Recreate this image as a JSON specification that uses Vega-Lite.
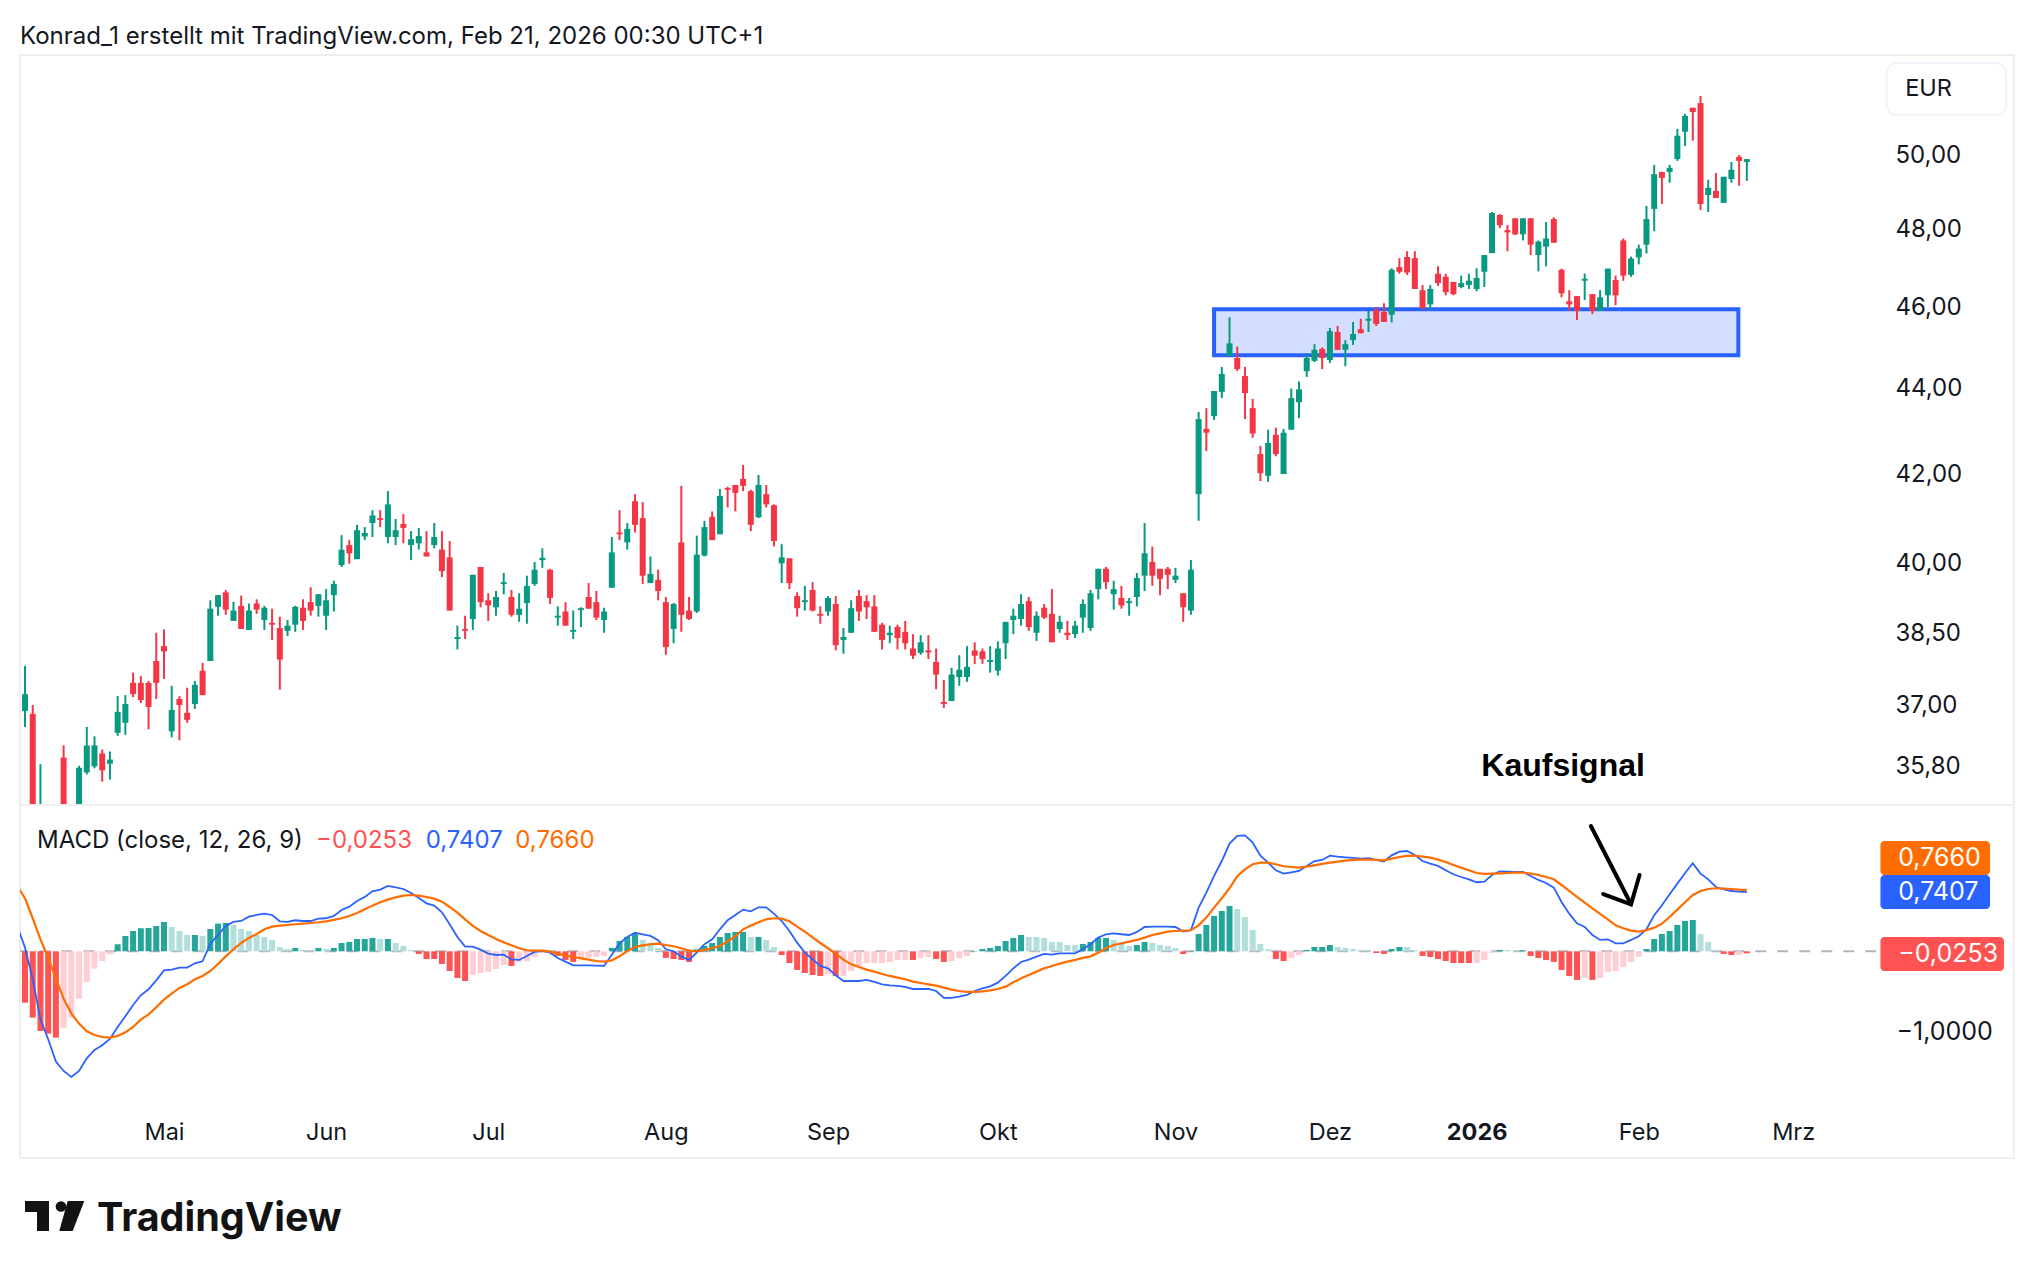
{"$schema":"https://vega.github.io/schema/vega-lite/v6.json","background":"white","padding":{"left":19,"right":21,"top":25,"bottom":0},"bounds":"flush","spacing":0,
"title":{"text":"Konrad_1 erstellt mit TradingView.com, Feb 21, 2026 00:30 UTC+1","anchor":"start","frame":"group","font":"Inter","fontSize":24,"fontWeight":"normal","color":"#131722","offset":5},
"config":{"view":{"stroke":"#eeeeee","strokeWidth":2},"axis":{"grid":false,"domain":false,"ticks":false,"title":null,"labelFont":"Inter","labelFontSize":24,"labelColor":"#131722"},"text":{"font":"Inter"}},
"datasets":{
"candles":[{"i":0,"o":36.9,"h":37.82,"l":36.58,"c":37.24},{"i":1,"o":36.84,"h":37.02,"l":34.41,"c":34.81},{"i":2,"o":34.31,"h":35.84,"l":34.11,"c":34.91},{"i":3,"o":34.6,"h":34.9,"l":34,"c":34.2},{"i":4,"o":34.5,"h":34.8,"l":33.9,"c":34.1},{"i":5,"o":35.97,"h":36.21,"l":34.3,"c":34.6},{"i":6,"o":34.3,"h":34.9,"l":34.2,"c":34.7},{"i":7,"o":34.7,"h":35.81,"l":34.5,"c":35.77},{"i":8,"o":35.68,"h":36.58,"l":35.64,"c":36.21},{"i":9,"o":35.8,"h":36.39,"l":35.76,"c":36.21},{"i":10,"o":36.05,"h":36.13,"l":35.5,"c":35.72},{"i":11,"o":35.85,"h":36.09,"l":35.54,"c":35.93},{"i":12,"o":36.46,"h":37.2,"l":36.4,"c":36.88},{"i":13,"o":36.66,"h":37.22,"l":36.42,"c":37.04},{"i":14,"o":37.47,"h":37.68,"l":37.18,"c":37.24},{"i":15,"o":37.47,"h":37.61,"l":37.06,"c":37.12},{"i":16,"o":37.47,"h":37.51,"l":36.53,"c":36.98},{"i":17,"o":37.92,"h":38.51,"l":37.14,"c":37.47},{"i":18,"o":38.23,"h":38.58,"l":37.55,"c":38.12},{"i":19,"o":36.49,"h":37.41,"l":36.37,"c":36.92},{"i":20,"o":37.14,"h":37.2,"l":36.31,"c":37.02},{"i":21,"o":36.86,"h":37.37,"l":36.66,"c":36.72},{"i":22,"o":37.04,"h":37.51,"l":36.94,"c":37.43},{"i":23,"o":37.72,"h":37.88,"l":37.22,"c":37.22},{"i":24,"o":37.92,"h":39.2,"l":37.92,"c":39.02},{"i":25,"o":39.06,"h":39.31,"l":38.87,"c":39.31},{"i":26,"o":39.37,"h":39.42,"l":38.89,"c":39},{"i":27,"o":38.76,"h":39.17,"l":38.76,"c":38.98},{"i":28,"o":39.08,"h":39.3,"l":38.59,"c":38.59},{"i":29,"o":38.57,"h":39.13,"l":38.57,"c":38.98},{"i":30,"o":39.13,"h":39.22,"l":38.91,"c":39},{"i":31,"o":38.78,"h":39.08,"l":38.57,"c":39.04},{"i":32,"o":38.72,"h":39.02,"l":38.36,"c":38.68},{"i":33,"o":38.61,"h":38.85,"l":37.33,"c":37.95},{"i":34,"o":38.55,"h":38.78,"l":38.44,"c":38.66},{"i":35,"o":38.68,"h":39.08,"l":38.53,"c":39.06},{"i":36,"o":39.04,"h":39.22,"l":38.57,"c":38.76},{"i":37,"o":39.16,"h":39.48,"l":38.87,"c":38.98},{"i":38,"o":39.08,"h":39.33,"l":38.85,"c":39.33},{"i":39,"o":38.87,"h":39.44,"l":38.57,"c":39.2},{"i":40,"o":39.31,"h":39.62,"l":38.96,"c":39.55},{"i":41,"o":39.96,"h":40.62,"l":39.92,"c":40.3},{"i":42,"o":40.4,"h":40.51,"l":39.99,"c":40.22},{"i":43,"o":40.09,"h":40.85,"l":40.09,"c":40.73},{"i":44,"o":40.59,"h":40.8,"l":40.51,"c":40.67},{"i":45,"o":40.89,"h":41.18,"l":40.58,"c":41.06},{"i":46,"o":41,"h":41.18,"l":40.8,"c":40.96},{"i":47,"o":40.58,"h":41.61,"l":40.44,"c":41.31},{"i":48,"o":40.58,"h":40.98,"l":40.4,"c":40.73},{"i":49,"o":40.87,"h":41.09,"l":40.44,"c":40.78},{"i":50,"o":40.4,"h":40.71,"l":40.07,"c":40.53},{"i":51,"o":40.44,"h":40.78,"l":40.3,"c":40.6},{"i":52,"o":40.24,"h":40.71,"l":40.15,"c":40.15},{"i":53,"o":40.4,"h":40.89,"l":40.33,"c":40.58},{"i":54,"o":40.3,"h":40.71,"l":39.7,"c":39.83},{"i":55,"o":40.13,"h":40.49,"l":38.98,"c":38.98},{"i":56,"o":38.38,"h":38.66,"l":38.16,"c":38.42},{"i":57,"o":38.59,"h":38.87,"l":38.38,"c":38.55},{"i":58,"o":38.8,"h":39.75,"l":38.57,"c":39.75},{"i":59,"o":39.92,"h":39.92,"l":39.05,"c":39.16},{"i":60,"o":39.2,"h":39.35,"l":38.76,"c":39.09},{"i":61,"o":39.05,"h":39.4,"l":38.87,"c":39.27},{"i":62,"o":39.55,"h":39.79,"l":39.33,"c":39.59},{"i":63,"o":39.27,"h":39.42,"l":38.85,"c":38.89},{"i":64,"o":38.89,"h":39.35,"l":38.74,"c":39.02},{"i":65,"o":39.14,"h":39.73,"l":38.7,"c":39.51},{"i":66,"o":39.55,"h":40.03,"l":39.51,"c":39.86},{"i":67,"o":40.07,"h":40.33,"l":39.9,"c":40.12},{"i":68,"o":39.86,"h":39.88,"l":39.12,"c":39.25},{"i":69,"o":38.83,"h":39.07,"l":38.66,"c":38.87},{"i":70,"o":38.96,"h":39.16,"l":38.66,"c":38.66},{"i":71,"o":38.53,"h":38.98,"l":38.38,"c":38.57},{"i":72,"o":38.99,"h":39.05,"l":38.63,"c":39.03},{"i":73,"o":39.27,"h":39.57,"l":39.02,"c":39.02},{"i":74,"o":39.16,"h":39.4,"l":38.78,"c":38.83},{"i":75,"o":38.78,"h":39.04,"l":38.51,"c":38.96},{"i":76,"o":39.47,"h":40.58,"l":39.47,"c":40.24},{"i":77,"o":40.68,"h":41.18,"l":40.51,"c":40.64},{"i":78,"o":40.46,"h":40.89,"l":40.3,"c":40.76},{"i":79,"o":41.38,"h":41.54,"l":40.68,"c":40.85},{"i":80,"o":41,"h":41.36,"l":39.55,"c":39.73},{"i":81,"o":39.57,"h":40.15,"l":39.57,"c":39.77},{"i":82,"o":39.64,"h":39.86,"l":39.2,"c":39.4},{"i":83,"o":39.16,"h":39.27,"l":38.05,"c":38.21},{"i":84,"o":38.59,"h":39.14,"l":38.29,"c":39.12},{"i":85,"o":40.46,"h":41.73,"l":38.53,"c":38.89},{"i":86,"o":38.98,"h":39.27,"l":38.78,"c":38.8},{"i":87,"o":38.96,"h":40.61,"l":38.93,"c":40.19},{"i":88,"o":40.17,"h":40.94,"l":40.15,"c":40.8},{"i":89,"o":41.03,"h":41.15,"l":40.51,"c":40.51},{"i":90,"o":40.64,"h":41.66,"l":40.64,"c":41.5},{"i":91,"o":41.68,"h":41.71,"l":41.24,"c":41.64},{"i":92,"o":41.75,"h":41.75,"l":41.15,"c":41.57},{"i":93,"o":41.89,"h":42.21,"l":41.61,"c":41.73},{"i":94,"o":41.61,"h":41.64,"l":40.71,"c":40.85},{"i":95,"o":41.02,"h":41.98,"l":41,"c":41.75},{"i":96,"o":41.54,"h":41.75,"l":41.24,"c":41.31},{"i":97,"o":41.29,"h":41.31,"l":40.37,"c":40.49},{"i":98,"o":40,"h":40.42,"l":39.57,"c":40.13},{"i":99,"o":40.11,"h":40.11,"l":39.44,"c":39.57},{"i":100,"o":39.29,"h":39.37,"l":38.85,"c":39.03},{"i":101,"o":39.16,"h":39.51,"l":38.98,"c":39.2},{"i":102,"o":39.42,"h":39.59,"l":38.96,"c":38.98},{"i":103,"o":38.91,"h":39.07,"l":38.7,"c":38.87},{"i":104,"o":38.96,"h":39.29,"l":38.87,"c":39.25},{"i":105,"o":39.12,"h":39.29,"l":38.14,"c":38.25},{"i":106,"o":38.36,"h":38.61,"l":38.07,"c":38.42},{"i":107,"o":38.51,"h":39.2,"l":38.51,"c":39.03},{"i":108,"o":39.29,"h":39.42,"l":38.76,"c":38.96},{"i":109,"o":39.18,"h":39.31,"l":38.8,"c":39.05},{"i":110,"o":39.07,"h":39.31,"l":38.53,"c":38.53},{"i":111,"o":38.68,"h":38.72,"l":38.16,"c":38.36},{"i":112,"o":38.46,"h":38.66,"l":38.29,"c":38.51},{"i":113,"o":38.63,"h":38.68,"l":38.16,"c":38.4},{"i":114,"o":38.53,"h":38.76,"l":38.16,"c":38.29},{"i":115,"o":38.18,"h":38.48,"l":37.96,"c":38.03},{"i":116,"o":38.09,"h":38.46,"l":38.05,"c":38.31},{"i":117,"o":38.14,"h":38.46,"l":37.96,"c":38.1},{"i":118,"o":37.9,"h":38.18,"l":37.34,"c":37.64},{"i":119,"o":37.08,"h":37.53,"l":36.96,"c":37.04},{"i":120,"o":37.1,"h":37.78,"l":37.1,"c":37.64},{"i":121,"o":37.59,"h":38.04,"l":37.41,"c":37.74},{"i":122,"o":37.59,"h":38.23,"l":37.49,"c":37.8},{"i":123,"o":38.14,"h":38.31,"l":37.86,"c":38.03},{"i":124,"o":38.12,"h":38.18,"l":37.86,"c":37.96},{"i":125,"o":37.9,"h":38.23,"l":37.68,"c":37.94},{"i":126,"o":37.72,"h":38.33,"l":37.62,"c":38.18},{"i":127,"o":38.29,"h":38.74,"l":37.96,"c":38.74},{"i":128,"o":38.78,"h":39.02,"l":38.48,"c":38.87},{"i":129,"o":38.8,"h":39.33,"l":38.66,"c":39.12},{"i":130,"o":39.18,"h":39.27,"l":38.55,"c":38.63},{"i":131,"o":38.51,"h":38.96,"l":38.34,"c":38.87},{"i":132,"o":39.04,"h":39.12,"l":38.8,"c":38.83},{"i":133,"o":38.91,"h":39.44,"l":38.31,"c":38.31},{"i":134,"o":38.59,"h":38.87,"l":38.51,"c":38.74},{"i":135,"o":38.51,"h":38.76,"l":38.36,"c":38.46},{"i":136,"o":38.48,"h":38.76,"l":38.4,"c":38.66},{"i":137,"o":38.83,"h":39.22,"l":38.51,"c":39.12},{"i":138,"o":38.61,"h":39.42,"l":38.55,"c":39.35},{"i":139,"o":39.44,"h":39.88,"l":39.22,"c":39.88},{"i":140,"o":39.88,"h":39.92,"l":39.44,"c":39.59},{"i":141,"o":39.33,"h":39.62,"l":39,"c":39.44},{"i":142,"o":39.25,"h":39.51,"l":39.02,"c":39.09},{"i":143,"o":39.14,"h":39.25,"l":38.87,"c":39.18},{"i":144,"o":39.27,"h":39.79,"l":39.07,"c":39.68},{"i":145,"o":39.73,"h":40.89,"l":39.4,"c":40.22},{"i":146,"o":40.03,"h":40.37,"l":39.51,"c":39.73},{"i":147,"o":39.88,"h":39.88,"l":39.31,"c":39.66},{"i":148,"o":39.88,"h":39.92,"l":39.44,"c":39.75},{"i":149,"o":39.64,"h":39.9,"l":39.57,"c":39.73},{"i":150,"o":39.35,"h":39.35,"l":38.74,"c":39.05},{"i":151,"o":38.98,"h":40.07,"l":38.89,"c":39.86},{"i":152,"o":41.54,"h":43.45,"l":40.94,"c":43.28},{"i":153,"o":43.05,"h":43.54,"l":42.53,"c":42.96},{"i":154,"o":43.35,"h":43.95,"l":43.26,"c":43.95},{"i":155,"o":43.93,"h":44.53,"l":43.78,"c":44.36},{"i":156,"o":44.8,"h":45.76,"l":44.8,"c":45.11},{"i":157,"o":44.75,"h":45.03,"l":44.43,"c":44.48},{"i":158,"o":44.31,"h":44.53,"l":43.28,"c":43.9},{"i":159,"o":43.54,"h":43.76,"l":42.84,"c":42.94},{"i":160,"o":42.46,"h":42.65,"l":41.84,"c":42.02},{"i":161,"o":41.96,"h":43.03,"l":41.82,"c":42.72},{"i":162,"o":42.91,"h":43.08,"l":42.41,"c":42.46},{"i":163,"o":42,"h":43.05,"l":42,"c":42.96},{"i":164,"o":43.03,"h":44.01,"l":43.03,"c":43.78},{"i":165,"o":43.68,"h":44.18,"l":43.3,"c":43.99},{"i":166,"o":44.43,"h":44.87,"l":44.29,"c":44.75},{"i":167,"o":44.68,"h":45.09,"l":44.65,"c":44.95},{"i":168,"o":44.97,"h":45.01,"l":44.48,"c":44.75},{"i":169,"o":44.7,"h":45.49,"l":44.63,"c":45.41},{"i":170,"o":45.39,"h":45.54,"l":44.95,"c":44.95},{"i":171,"o":44.95,"h":45.19,"l":44.55,"c":45.09},{"i":172,"o":45.19,"h":45.64,"l":45.07,"c":45.34},{"i":173,"o":45.46,"h":45.72,"l":45.36,"c":45.36},{"i":174,"o":45.67,"h":45.92,"l":45.39,"c":45.72},{"i":175,"o":45.94,"h":46.01,"l":45.54,"c":45.59},{"i":176,"o":45.89,"h":46.11,"l":45.64,"c":45.64},{"i":177,"o":45.82,"h":47,"l":45.63,"c":46.96},{"i":178,"o":47.03,"h":47.26,"l":46.86,"c":46.91},{"i":179,"o":47.29,"h":47.44,"l":46.83,"c":46.89},{"i":180,"o":47.26,"h":47.44,"l":46.47,"c":46.47},{"i":181,"o":46.44,"h":46.57,"l":45.97,"c":45.99},{"i":182,"o":46.08,"h":46.57,"l":45.94,"c":46.47},{"i":183,"o":46.86,"h":47.05,"l":46.55,"c":46.62},{"i":184,"o":46.78,"h":46.86,"l":46.31,"c":46.39},{"i":185,"o":46.65,"h":46.65,"l":46.31,"c":46.34},{"i":186,"o":46.52,"h":46.81,"l":46.49,"c":46.62},{"i":187,"o":46.57,"h":46.86,"l":46.47,"c":46.68},{"i":188,"o":46.47,"h":47,"l":46.41,"c":46.75},{"i":189,"o":46.91,"h":47.34,"l":46.52,"c":47.34},{"i":190,"o":47.39,"h":48.47,"l":47.39,"c":48.44},{"i":191,"o":48.39,"h":48.41,"l":48.04,"c":48.12},{"i":192,"o":47.99,"h":48.12,"l":47.44,"c":47.93},{"i":193,"o":48.3,"h":48.3,"l":47.86,"c":47.88},{"i":194,"o":47.88,"h":48.3,"l":47.72,"c":48.3},{"i":195,"o":48.3,"h":48.3,"l":47.34,"c":47.61},{"i":196,"o":47.34,"h":47.72,"l":46.92,"c":47.69},{"i":197,"o":47.56,"h":48.2,"l":47.05,"c":47.77},{"i":198,"o":48.28,"h":48.33,"l":47.66,"c":47.66},{"i":199,"o":46.96,"h":46.99,"l":46.26,"c":46.36},{"i":200,"o":46.16,"h":46.44,"l":45.92,"c":46.08},{"i":201,"o":46.29,"h":46.29,"l":45.69,"c":45.92},{"i":202,"o":46.68,"h":46.86,"l":46.19,"c":46.73},{"i":203,"o":46.34,"h":46.34,"l":45.84,"c":45.92},{"i":204,"o":45.92,"h":46.44,"l":45.92,"c":46.26},{"i":205,"o":46.31,"h":46.99,"l":46.01,"c":46.99},{"i":206,"o":46.7,"h":46.81,"l":46.06,"c":46.31},{"i":207,"o":47.72,"h":47.77,"l":46.68,"c":46.81},{"i":208,"o":46.83,"h":47.3,"l":46.78,"c":47.25},{"i":209,"o":47.28,"h":47.61,"l":47.1,"c":47.51},{"i":210,"o":47.61,"h":48.63,"l":47.38,"c":48.28},{"i":211,"o":48.55,"h":49.73,"l":47.96,"c":49.48},{"i":212,"o":49.54,"h":49.54,"l":48.68,"c":49.38},{"i":213,"o":49.54,"h":49.73,"l":49.25,"c":49.65},{"i":214,"o":49.89,"h":50.72,"l":49.84,"c":50.53},{"i":215,"o":50.64,"h":51.14,"l":50.25,"c":51.08},{"i":216,"o":51.31,"h":51.31,"l":50.39,"c":51.19},{"i":217,"o":51.44,"h":51.64,"l":48.52,"c":48.68},{"i":218,"o":48.92,"h":49.33,"l":48.47,"c":49.11},{"i":219,"o":49.03,"h":49.51,"l":48.84,"c":48.84},{"i":220,"o":48.71,"h":49.41,"l":48.71,"c":49.41},{"i":221,"o":49.35,"h":49.81,"l":49.25,"c":49.6},{"i":222,"o":49.95,"h":50,"l":49.17,"c":49.84},{"i":223,"o":49.81,"h":49.89,"l":49.3,"c":49.89}],
"macd":[{"i":-1,"macd":0.317,"signal":0.817},{"i":0,"hist":-0.642,"phase":"fb","macd":0.046,"signal":0.663},{"i":1,"hist":-0.829,"phase":"fb","macd":-0.35,"signal":0.413},{"i":2,"hist":-0.996,"phase":"fb","macd":-0.85,"signal":0.15},{"i":3,"hist":-1.029,"phase":"fb","macd":-1.1,"signal":-0.079},{"i":4,"hist":-1.079,"phase":"fb","macd":-1.379,"signal":-0.342},{"i":5,"hist":-0.954,"phase":"gb","macd":-1.496,"signal":-0.592},{"i":6,"hist":-0.829,"phase":"gb","macd":-1.571,"signal":-0.779},{"i":7,"hist":-0.592,"phase":"gb","macd":-1.496,"signal":-0.904},{"i":8,"hist":-0.383,"phase":"gb","macd":-1.338,"signal":-1},{"i":9,"hist":-0.217,"phase":"gb","macd":-1.233,"signal":-1.046},{"i":10,"hist":-0.121,"phase":"gb","macd":-1.175,"signal":-1.071},{"i":11,"hist":-0.038,"phase":"gb","macd":-1.096,"signal":-1.079},{"i":12,"hist":0.088,"phase":"ga","macd":-0.946,"signal":-1.058},{"i":13,"hist":0.192,"phase":"ga","macd":-0.813,"signal":-1.013},{"i":14,"hist":0.254,"phase":"ga","macd":-0.671,"signal":-0.946},{"i":15,"hist":0.288,"phase":"ga","macd":-0.55,"signal":-0.854},{"i":16,"hist":0.292,"phase":"ga","macd":-0.475,"signal":-0.788},{"i":17,"hist":0.317,"phase":"ga","macd":-0.363,"signal":-0.7},{"i":18,"hist":0.367,"phase":"ga","macd":-0.238,"signal":-0.604},{"i":19,"hist":0.304,"phase":"fa","macd":-0.229,"signal":-0.529},{"i":20,"hist":0.254,"phase":"fa","macd":-0.204,"signal":-0.458},{"i":21,"hist":0.204,"phase":"fa","macd":-0.204,"signal":-0.413},{"i":22,"hist":0.204,"phase":"ga","macd":-0.15,"signal":-0.35},{"i":23,"hist":0.192,"phase":"fa","macd":-0.125,"signal":-0.308},{"i":24,"hist":0.279,"phase":"ga","macd":0.096,"signal":-0.246},{"i":25,"hist":0.346,"phase":"ga","macd":0.204,"signal":-0.158},{"i":26,"hist":0.354,"phase":"ga","macd":0.317,"signal":-0.063},{"i":27,"hist":0.329,"phase":"fa","macd":0.367,"signal":0.025},{"i":28,"hist":0.279,"phase":"fa","macd":0.379,"signal":0.104},{"i":29,"hist":0.254,"phase":"fa","macd":0.433,"signal":0.167},{"i":30,"hist":0.204,"phase":"fa","macd":0.454,"signal":0.217},{"i":31,"hist":0.179,"phase":"fa","macd":0.471,"signal":0.275},{"i":32,"hist":0.142,"phase":"fa","macd":0.454,"signal":0.308},{"i":33,"hist":0.054,"phase":"fa","macd":0.375,"signal":0.321},{"i":34,"hist":0.029,"phase":"fa","macd":0.367,"signal":0.329},{"i":35,"hist":0.042,"phase":"ga","macd":0.388,"signal":0.338},{"i":36,"hist":0.017,"phase":"fa","macd":0.379,"signal":0.346},{"i":37,"hist":0.013,"phase":"fa","macd":0.379,"signal":0.354},{"i":38,"hist":0.042,"phase":"ga","macd":0.408,"signal":0.363},{"i":39,"hist":0.029,"phase":"fa","macd":0.413,"signal":0.375},{"i":40,"hist":0.042,"phase":"ga","macd":0.442,"signal":0.392},{"i":41,"hist":0.104,"phase":"ga","macd":0.517,"signal":0.413},{"i":42,"hist":0.117,"phase":"ga","macd":0.558,"signal":0.442},{"i":43,"hist":0.154,"phase":"ga","macd":0.629,"signal":0.479},{"i":44,"hist":0.154,"phase":"ga","macd":0.679,"signal":0.525},{"i":45,"hist":0.167,"phase":"ga","macd":0.75,"signal":0.571},{"i":46,"hist":0.154,"phase":"fa","macd":0.771,"signal":0.613},{"i":47,"hist":0.154,"phase":"ga","macd":0.817,"signal":0.646},{"i":48,"hist":0.104,"phase":"fa","macd":0.8,"signal":0.675},{"i":49,"hist":0.067,"phase":"fa","macd":0.779,"signal":0.696},{"i":50,"hist":0.017,"phase":"fa","macd":0.729,"signal":0.704},{"i":51,"hist":-0.033,"phase":"fb","macd":0.667,"signal":0.696},{"i":52,"hist":-0.096,"phase":"fb","macd":0.6,"signal":0.679},{"i":53,"hist":-0.096,"phase":"fb","macd":0.571,"signal":0.658},{"i":54,"hist":-0.158,"phase":"fb","macd":0.488,"signal":0.621},{"i":55,"hist":-0.246,"phase":"fb","macd":0.338,"signal":0.554},{"i":56,"hist":-0.333,"phase":"fb","macd":0.179,"signal":0.483},{"i":57,"hist":-0.371,"phase":"fb","macd":0.058,"signal":0.4},{"i":58,"hist":-0.296,"phase":"gb","macd":0.058,"signal":0.317},{"i":59,"hist":-0.271,"phase":"gb","macd":0.021,"signal":0.254},{"i":60,"hist":-0.258,"phase":"gb","macd":-0.029,"signal":0.204},{"i":61,"hist":-0.221,"phase":"gb","macd":-0.046,"signal":0.154},{"i":62,"hist":-0.171,"phase":"gb","macd":-0.042,"signal":0.113},{"i":63,"hist":-0.183,"phase":"fb","macd":-0.1,"signal":0.075},{"i":64,"hist":-0.133,"phase":"gb","macd":-0.108,"signal":0.038},{"i":65,"hist":-0.121,"phase":"gb","macd":-0.058,"signal":0.013},{"i":66,"hist":-0.071,"phase":"gb","macd":-0.008,"signal":0.008},{"i":67,"hist":-0.021,"phase":"gb","macd":0.004,"signal":0.008},{"i":68,"hist":0.017,"phase":"fa","macd":-0.017,"signal":-0.004},{"i":69,"hist":-0.058,"phase":"fb","macd":-0.083,"signal":-0.029},{"i":70,"hist":-0.108,"phase":"fb","macd":-0.129,"signal":-0.05},{"i":71,"hist":-0.133,"phase":"fb","macd":-0.175,"signal":-0.071},{"i":72,"hist":-0.096,"phase":"gb","macd":-0.175,"signal":-0.088},{"i":73,"hist":-0.083,"phase":"gb","macd":-0.175,"signal":-0.104},{"i":74,"hist":-0.071,"phase":"gb","macd":-0.179,"signal":-0.121},{"i":75,"hist":-0.058,"phase":"gb","macd":-0.183,"signal":-0.129},{"i":76,"hist":0.042,"phase":"ga","macd":-0.042,"signal":-0.113},{"i":77,"hist":0.129,"phase":"ga","macd":0.1,"signal":-0.063},{"i":78,"hist":0.179,"phase":"ga","macd":0.179,"signal":0.004},{"i":79,"hist":0.229,"phase":"ga","macd":0.233,"signal":0.054},{"i":80,"hist":0.142,"phase":"fa","macd":0.213,"signal":0.075},{"i":81,"hist":0.104,"phase":"fa","macd":0.192,"signal":0.088},{"i":82,"hist":0.042,"phase":"fa","macd":0.138,"signal":0.096},{"i":83,"hist":-0.083,"phase":"fb","macd":0.025,"signal":0.079},{"i":84,"hist":-0.096,"phase":"fb","macd":0,"signal":0.063},{"i":85,"hist":-0.108,"phase":"fb","macd":-0.067,"signal":0.038},{"i":86,"hist":-0.133,"phase":"fb","macd":-0.108,"signal":0.008},{"i":87,"hist":0.025,"phase":"ga","macd":-0.017,"signal":0},{"i":88,"hist":0.067,"phase":"ga","macd":0.088,"signal":0.017},{"i":89,"hist":0.104,"phase":"ga","macd":0.15,"signal":0.038},{"i":90,"hist":0.179,"phase":"ga","macd":0.275,"signal":0.067},{"i":91,"hist":0.229,"phase":"ga","macd":0.388,"signal":0.125},{"i":92,"hist":0.242,"phase":"ga","macd":0.454,"signal":0.188},{"i":93,"hist":0.242,"phase":"ga","macd":0.521,"signal":0.275},{"i":94,"hist":0.179,"phase":"fa","macd":0.5,"signal":0.321},{"i":95,"hist":0.179,"phase":"ga","macd":0.55,"signal":0.363},{"i":96,"hist":0.142,"phase":"fa","macd":0.55,"signal":0.4},{"i":97,"hist":0.054,"phase":"fa","macd":0.471,"signal":0.413},{"i":98,"hist":-0.046,"phase":"fb","macd":0.379,"signal":0.408},{"i":99,"hist":-0.146,"phase":"fb","macd":0.254,"signal":0.375},{"i":100,"hist":-0.233,"phase":"fb","macd":0.108,"signal":0.308},{"i":101,"hist":-0.271,"phase":"fb","macd":-0.017,"signal":0.246},{"i":102,"hist":-0.296,"phase":"fb","macd":-0.1,"signal":0.175},{"i":103,"hist":-0.308,"phase":"fb","macd":-0.183,"signal":0.104},{"i":104,"hist":-0.283,"phase":"gb","macd":-0.213,"signal":0.038},{"i":105,"hist":-0.308,"phase":"fb","macd":-0.3,"signal":-0.029},{"i":106,"hist":-0.308,"phase":"gb","macd":-0.371,"signal":-0.104},{"i":107,"hist":-0.246,"phase":"gb","macd":-0.371,"signal":-0.163},{"i":108,"hist":-0.196,"phase":"gb","macd":-0.371,"signal":-0.196},{"i":109,"hist":-0.146,"phase":"gb","macd":-0.358,"signal":-0.229},{"i":110,"hist":-0.146,"phase":"gb","macd":-0.383,"signal":-0.254},{"i":111,"hist":-0.146,"phase":"gb","macd":-0.413,"signal":-0.283},{"i":112,"hist":-0.133,"phase":"gb","macd":-0.425,"signal":-0.308},{"i":113,"hist":-0.108,"phase":"gb","macd":-0.433,"signal":-0.329},{"i":114,"hist":-0.108,"phase":"gb","macd":-0.446,"signal":-0.35},{"i":115,"hist":-0.108,"phase":"fb","macd":-0.471,"signal":-0.379},{"i":116,"hist":-0.083,"phase":"gb","macd":-0.471,"signal":-0.396},{"i":117,"hist":-0.071,"phase":"gb","macd":-0.471,"signal":-0.413},{"i":118,"hist":-0.096,"phase":"fb","macd":-0.496,"signal":-0.429},{"i":119,"hist":-0.133,"phase":"fb","macd":-0.583,"signal":-0.454},{"i":120,"hist":-0.121,"phase":"gb","macd":-0.583,"signal":-0.479},{"i":121,"hist":-0.083,"phase":"gb","macd":-0.567,"signal":-0.496},{"i":122,"hist":-0.058,"phase":"gb","macd":-0.546,"signal":-0.508},{"i":123,"hist":0.004,"phase":"ga","macd":-0.496,"signal":-0.508},{"i":124,"hist":0.029,"phase":"ga","macd":-0.463,"signal":-0.5},{"i":125,"hist":0.042,"phase":"ga","macd":-0.438,"signal":-0.488},{"i":126,"hist":0.067,"phase":"ga","macd":-0.392,"signal":-0.471},{"i":127,"hist":0.129,"phase":"ga","macd":-0.308,"signal":-0.442},{"i":128,"hist":0.167,"phase":"ga","macd":-0.213,"signal":-0.388},{"i":129,"hist":0.204,"phase":"ga","macd":-0.133,"signal":-0.338},{"i":130,"hist":0.179,"phase":"fa","macd":-0.104,"signal":-0.296},{"i":131,"hist":0.179,"phase":"fa","macd":-0.067,"signal":-0.254},{"i":132,"hist":0.167,"phase":"fa","macd":-0.033,"signal":-0.213},{"i":133,"hist":0.117,"phase":"fa","macd":-0.042,"signal":-0.183},{"i":134,"hist":0.117,"phase":"fa","macd":-0.025,"signal":-0.154},{"i":135,"hist":0.079,"phase":"fa","macd":-0.025,"signal":-0.129},{"i":136,"hist":0.079,"phase":"fa","macd":-0.025,"signal":-0.108},{"i":137,"hist":0.092,"phase":"ga","macd":0.025,"signal":-0.083},{"i":138,"hist":0.117,"phase":"ga","macd":0.088,"signal":-0.063},{"i":139,"hist":0.167,"phase":"ga","macd":0.171,"signal":-0.017},{"i":140,"hist":0.167,"phase":"ga","macd":0.213,"signal":0.038},{"i":141,"hist":0.142,"phase":"fa","macd":0.225,"signal":0.079},{"i":142,"hist":0.104,"phase":"fa","macd":0.213,"signal":0.1},{"i":143,"hist":0.067,"phase":"fa","macd":0.204,"signal":0.121},{"i":144,"hist":0.079,"phase":"ga","macd":0.242,"signal":0.142},{"i":145,"hist":0.117,"phase":"ga","macd":0.304,"signal":0.171},{"i":146,"hist":0.104,"phase":"fa","macd":0.308,"signal":0.204},{"i":147,"hist":0.079,"phase":"fa","macd":0.308,"signal":0.225},{"i":148,"hist":0.067,"phase":"fa","macd":0.308,"signal":0.246},{"i":149,"hist":0.042,"phase":"fa","macd":0.304,"signal":0.254},{"i":150,"hist":-0.033,"phase":"fb","macd":0.246,"signal":0.258},{"i":151,"hist":0.004,"phase":"ga","macd":0.263,"signal":0.263},{"i":152,"hist":0.217,"phase":"ga","macd":0.546,"signal":0.325},{"i":153,"hist":0.329,"phase":"ga","macd":0.733,"signal":0.421},{"i":154,"hist":0.442,"phase":"ga","macd":0.942,"signal":0.546},{"i":155,"hist":0.504,"phase":"ga","macd":1.129,"signal":0.663},{"i":156,"hist":0.567,"phase":"ga","macd":1.346,"signal":0.788},{"i":157,"hist":0.529,"phase":"fa","macd":1.442,"signal":0.938},{"i":158,"hist":0.429,"phase":"fa","macd":1.45,"signal":1.025},{"i":159,"hist":0.267,"phase":"fa","macd":1.358,"signal":1.088},{"i":160,"hist":0.092,"phase":"fa","macd":1.196,"signal":1.108},{"i":161,"hist":0.025,"phase":"fa","macd":1.108,"signal":1.108},{"i":162,"hist":-0.096,"phase":"fb","macd":1.013,"signal":1.088},{"i":163,"hist":-0.121,"phase":"fb","macd":0.971,"signal":1.063},{"i":164,"hist":-0.083,"phase":"gb","macd":0.988,"signal":1.054},{"i":165,"hist":-0.046,"phase":"gb","macd":1.004,"signal":1.046},{"i":166,"hist":0.017,"phase":"ga","macd":1.067,"signal":1.058},{"i":167,"hist":0.054,"phase":"ga","macd":1.129,"signal":1.075},{"i":168,"hist":0.054,"phase":"ga","macd":1.142,"signal":1.092},{"i":169,"hist":0.079,"phase":"ga","macd":1.196,"signal":1.108},{"i":170,"hist":0.054,"phase":"fa","macd":1.183,"signal":1.121},{"i":171,"hist":0.042,"phase":"fa","macd":1.175,"signal":1.133},{"i":172,"hist":0.029,"phase":"fa","macd":1.167,"signal":1.142},{"i":173,"hist":0.017,"phase":"fa","macd":1.158,"signal":1.146},{"i":174,"hist":0.017,"phase":"fa","macd":1.163,"signal":1.146},{"i":175,"hist":-0.021,"phase":"fb","macd":1.142,"signal":1.142},{"i":176,"hist":-0.033,"phase":"fb","macd":1.121,"signal":1.138},{"i":177,"hist":0.029,"phase":"ga","macd":1.2,"signal":1.158},{"i":178,"hist":0.054,"phase":"ga","macd":1.246,"signal":1.179},{"i":179,"hist":0.054,"phase":"fa","macd":1.254,"signal":1.192},{"i":180,"hist":0.017,"phase":"fa","macd":1.204,"signal":1.196},{"i":181,"hist":-0.058,"phase":"fb","macd":1.129,"signal":1.183},{"i":182,"hist":-0.071,"phase":"fb","macd":1.096,"signal":1.171},{"i":183,"hist":-0.096,"phase":"fb","macd":1.067,"signal":1.146},{"i":184,"hist":-0.121,"phase":"fb","macd":1.013,"signal":1.117},{"i":185,"hist":-0.146,"phase":"fb","macd":0.963,"signal":1.079},{"i":186,"hist":-0.146,"phase":"fb","macd":0.929,"signal":1.046},{"i":187,"hist":-0.146,"phase":"fb","macd":0.9,"signal":1.013},{"i":188,"hist":-0.146,"phase":"gb","macd":0.863,"signal":0.979},{"i":189,"hist":-0.108,"phase":"gb","macd":0.871,"signal":0.967},{"i":190,"hist":-0.017,"phase":"gb","macd":0.954,"signal":0.971},{"i":191,"hist":0.017,"phase":"ga","macd":1,"signal":0.975},{"i":192,"hist":0.017,"phase":"fa","macd":0.996,"signal":0.979},{"i":193,"hist":0.012,"phase":"fa","macd":0.992,"signal":0.983},{"i":194,"hist":0.012,"phase":"ga","macd":0.992,"signal":0.983},{"i":195,"hist":-0.058,"phase":"fb","macd":0.942,"signal":0.971},{"i":196,"hist":-0.083,"phase":"fb","macd":0.892,"signal":0.954},{"i":197,"hist":-0.108,"phase":"fb","macd":0.854,"signal":0.929},{"i":198,"hist":-0.133,"phase":"fb","macd":0.796,"signal":0.9},{"i":199,"hist":-0.233,"phase":"fb","macd":0.617,"signal":0.829},{"i":200,"hist":-0.308,"phase":"fb","macd":0.471,"signal":0.754},{"i":201,"hist":-0.358,"phase":"fb","macd":0.35,"signal":0.679},{"i":202,"hist":-0.333,"phase":"gb","macd":0.304,"signal":0.608},{"i":203,"hist":-0.358,"phase":"fb","macd":0.204,"signal":0.538},{"i":204,"hist":-0.333,"phase":"gb","macd":0.142,"signal":0.467},{"i":205,"hist":-0.258,"phase":"gb","macd":0.15,"signal":0.4},{"i":206,"hist":-0.246,"phase":"gb","macd":0.1,"signal":0.325},{"i":207,"hist":-0.196,"phase":"gb","macd":0.1,"signal":0.288},{"i":208,"hist":-0.133,"phase":"gb","macd":0.142,"signal":0.258},{"i":209,"hist":-0.071,"phase":"gb","macd":0.188,"signal":0.246},{"i":210,"hist":0.029,"phase":"ga","macd":0.275,"signal":0.263},{"i":211,"hist":0.154,"phase":"ga","macd":0.45,"signal":0.296},{"i":212,"hist":0.217,"phase":"ga","macd":0.575,"signal":0.346},{"i":213,"hist":0.254,"phase":"ga","macd":0.713,"signal":0.429},{"i":214,"hist":0.329,"phase":"ga","macd":0.846,"signal":0.521},{"i":215,"hist":0.379,"phase":"ga","macd":0.979,"signal":0.613},{"i":216,"hist":0.392,"phase":"ga","macd":1.1,"signal":0.704},{"i":217,"hist":0.217,"phase":"fa","macd":0.971,"signal":0.754},{"i":218,"hist":0.117,"phase":"fa","macd":0.9,"signal":0.779},{"i":219,"hist":0.017,"phase":"fa","macd":0.804,"signal":0.788},{"i":220,"hist":-0.033,"phase":"fb","macd":0.775,"signal":0.783},{"i":221,"hist":-0.046,"phase":"fb","macd":0.754,"signal":0.779},{"i":222,"hist":-0.046,"phase":"gb","macd":0.746,"signal":0.771},{"i":223,"hist":-0.0253,"phase":"fb","macd":0.7407,"signal":0.766}],
"legend":[{"i":1.55,"v":1.379,"label":"MACD (close, 12, 26, 9)","series":"name"},{"i":37.7,"v":1.379,"label":"−0,0253","series":"fb"},{"i":51.9,"v":1.379,"label":"0,7407","series":"macd"},{"i":63.5,"v":1.379,"label":"0,7660","series":"signal"}],
"tags":[{"i":240.3,"i2":254.5,"v":0.954,"v2":1.379,"mid":1.166,"label":"0,7660","series":"signal"},{"i":240.3,"i2":254.5,"v":0.529,"v2":0.954,"mid":0.741,"label":"0,7407","series":"macd"},{"i":240.3,"i2":256.3,"v":-0.246,"v2":0.179,"mid":-0.033,"label":"−0,0253","series":"fb"}],
"arrow":[{"part":"shaft","n":0,"i":202.8,"v":1.566},{"part":"shaft","n":1,"i":208,"v":0.588},{"part":"head","n":0,"i":204.4,"v":0.716},{"part":"head","n":1,"i":208,"v":0.588},{"part":"head","n":2,"i":209.1,"v":0.954}]
},
"vconcat":[
{"width":1994,"height":750,
"encoding":{"x":{"field":"i","type":"quantitative","title":null,"scale":{"domain":[-0.648,257.6],"nice":false,"zero":false,"padding":0},"axis":null}},
"layer":[
{"data":{"values":[{"i":154,"i2":221.9,"lo":44.82,"hi":45.96}]},"mark":{"type":"rect","fill":"#d4dfff","stroke":"#2962ff","strokeWidth":4},
"encoding":{"x2":{"field":"i2"},"y":{"field":"lo","type":"quantitative","title":null,"scale":{"type":"log","domain":[35.05,52.81],"nice":false,"zero":false},"axis":{"orient":"right","values":[35.8,37,38.5,40,42,44,46,48,50],"labelExpr":"replace(format(datum.value,'.2f'),'.',',')","labelPadding":-119,"labelAlign":"left"}},"y2":{"field":"hi"}}},
{"data":{"name":"candles"},"mark":{"type":"rule","strokeWidth":2,"clip":true},
"encoding":{"y":{"field":"l","type":"quantitative","title":null},"y2":{"field":"h"},"color":{"condition":{"test":"datum.c>=datum.o","value":"#089981"},"value":"#f23645"}}},
{"data":{"name":"candles"},"mark":{"type":"bar","orient":"vertical","size":6,"clip":true},
"encoding":{"y":{"field":"o","type":"quantitative","title":null},"y2":{"field":"c"},"color":{"condition":{"test":"datum.c>=datum.o","value":"#089981"},"value":"#f23645"}}},
{"data":{"values":[{"i":199.2,"p":35.8,"label":"Kaufsignal"}]},"mark":{"type":"text","font":"Liberation Sans","fontSize":32,"fontWeight":"bold","color":"#000000","align":"center","baseline":"middle"},
"encoding":{"y":{"field":"p","type":"quantitative","title":null},"text":{"field":"label"}}},
{"data":{"values":[{"i":241.1,"i2":256.6,"lo":51.11,"hi":52.58}]},"mark":{"type":"rect","fill":"white","stroke":"#f0f3fa","strokeWidth":2,"cornerRadius":10},
"encoding":{"x2":{"field":"i2"},"y":{"field":"lo","type":"quantitative","title":null},"y2":{"field":"hi"}}},
{"data":{"values":[{"i":243.5,"p":51.84,"label":"EUR"}]},"mark":{"type":"text","fontSize":23.5,"color":"#131722","align":"left","baseline":"middle"},
"encoding":{"y":{"field":"p","type":"quantitative","title":null},"text":{"field":"label"}}}
]},
{"width":1994,"height":353,
"encoding":{"x":{"field":"i","type":"quantitative","title":null,"scale":{"domain":[-0.648,257.6],"nice":false,"zero":false,"padding":0},"axis":{"orient":"bottom","values":[18,39,60,83,104,126,149,169,188,209,229],"labelExpr":"datum.value==18?'Mai':datum.value==39?'Jun':datum.value==60?'Jul':datum.value==83?'Aug':datum.value==104?'Sep':datum.value==126?'Okt':datum.value==149?'Nov':datum.value==169?'Dez':datum.value==188?'2026':datum.value==209?'Feb':'Mrz'","labelPadding":-38,"labelFontSize":23.5,"labelOverlap":false,"labelFlush":false,"labelBound":false,"labelFontWeight":{"condition":{"test":"datum.value==188","value":"bold"},"value":"normal"}}}},
"layer":[
{"data":{"values":[{"i":-1,"i2":240.3,"zero":0}]},"mark":{"type":"rule","color":"#b2b5be","strokeWidth":2,"strokeDash":[11,11],"clip":true},
"encoding":{"x2":{"field":"i2"},"y":{"field":"zero","type":"quantitative","title":null,"scale":{"domain":[-2.584,1.829],"nice":false,"zero":false},"axis":{"orient":"right","values":[-1],"labelExpr":"'−1,0000'","labelPadding":-118,"labelFontSize":25,"labelAlign":"left"}}}},
{"data":{"name":"macd"},"mark":{"type":"bar","orient":"vertical","size":6,"clip":true},
"encoding":{"y":{"field":"hist","type":"quantitative","title":null,"stack":null},"color":{"field":"phase","type":"nominal","legend":null,"scale":{"domain":["ga","fa","gb","fb","macd","signal","name"],"range":["#26a69a","#b2dfdb","#ffcdd2","#ff5252","#2962ff","#ff6d00","#131722"]}}}},
{"data":{"name":"macd"},"mark":{"type":"line","color":"#2962ff","strokeWidth":1.8,"clip":true},
"encoding":{"y":{"field":"macd","type":"quantitative","title":null}}},
{"data":{"name":"macd"},"mark":{"type":"line","color":"#ff6d00","strokeWidth":2.2,"clip":true},
"encoding":{"y":{"field":"signal","type":"quantitative","title":null}}},
{"data":{"name":"arrow"},"mark":{"type":"line","color":"#000000","strokeWidth":4,"strokeCap":"round"},
"encoding":{"y":{"field":"v","type":"quantitative","title":null},"detail":{"field":"part"},"order":{"field":"n"}}},
{"data":{"name":"legend"},"mark":{"type":"text","fontSize":24,"align":"left","baseline":"middle"},
"encoding":{"y":{"field":"v","type":"quantitative","title":null},"text":{"field":"label"},"color":{"field":"series","type":"nominal","legend":null}}},
{"data":{"name":"tags"},"mark":{"type":"rect","cornerRadius":4},
"encoding":{"x2":{"field":"i2"},"y":{"field":"v","type":"quantitative","title":null},"y2":{"field":"v2"},"color":{"field":"series","type":"nominal","legend":null}}},
{"data":{"name":"tags"},"transform":[{"calculate":"datum.i+2.3","as":"lx"}],"mark":{"type":"text","fontSize":25,"color":"white","align":"left","baseline":"middle"},
"encoding":{"x":{"field":"lx","type":"quantitative","title":null},"y":{"field":"mid","type":"quantitative","title":null},"text":{"field":"label"}}}
]},
{"width":1994,"height":121,"view":{"stroke":null},
"encoding":{"x":{"field":"x","type":"quantitative","title":null,"scale":{"domain":[0,1994],"nice":false,"zero":false},"axis":null}},
"layer":[
{"data":{"values":[{"x":5,"x2":29,"y":65,"y2":76},{"x":17,"x2":29,"y":46,"y2":76}]},"mark":{"type":"rect","color":"#131313"},
"encoding":{"x2":{"field":"x2"},"y":{"field":"y","type":"quantitative","title":null,"scale":{"domain":[-2,119],"nice":false,"zero":false},"axis":null},"y2":{"field":"y2"}}},
{"data":{"values":[{"x":41,"y":70.5}]},"mark":{"type":"point","filled":true,"size":113,"opacity":1,"color":"#131313"},
"encoding":{"y":{"field":"y","type":"quantitative","title":null,"axis":null}}},
{"data":{"values":[{"x":39.3,"x2":52.7,"y":46},{"x":47.7,"x2":64.3,"y":76}]},"mark":{"type":"area","orient":"horizontal","color":"#131313"},
"encoding":{"x2":{"field":"x2"},"y":{"field":"y","type":"quantitative","title":null,"axis":null}}},
{"data":{"values":[{"x":77,"y":46,"label":"TradingView"}]},"mark":{"type":"text","fontSize":39.5,"fontWeight":700,"color":"#131313","align":"left","baseline":"alphabetic"},
"encoding":{"y":{"field":"y","type":"quantitative","title":null,"axis":null},"text":{"field":"label"}}}
]}
]}
